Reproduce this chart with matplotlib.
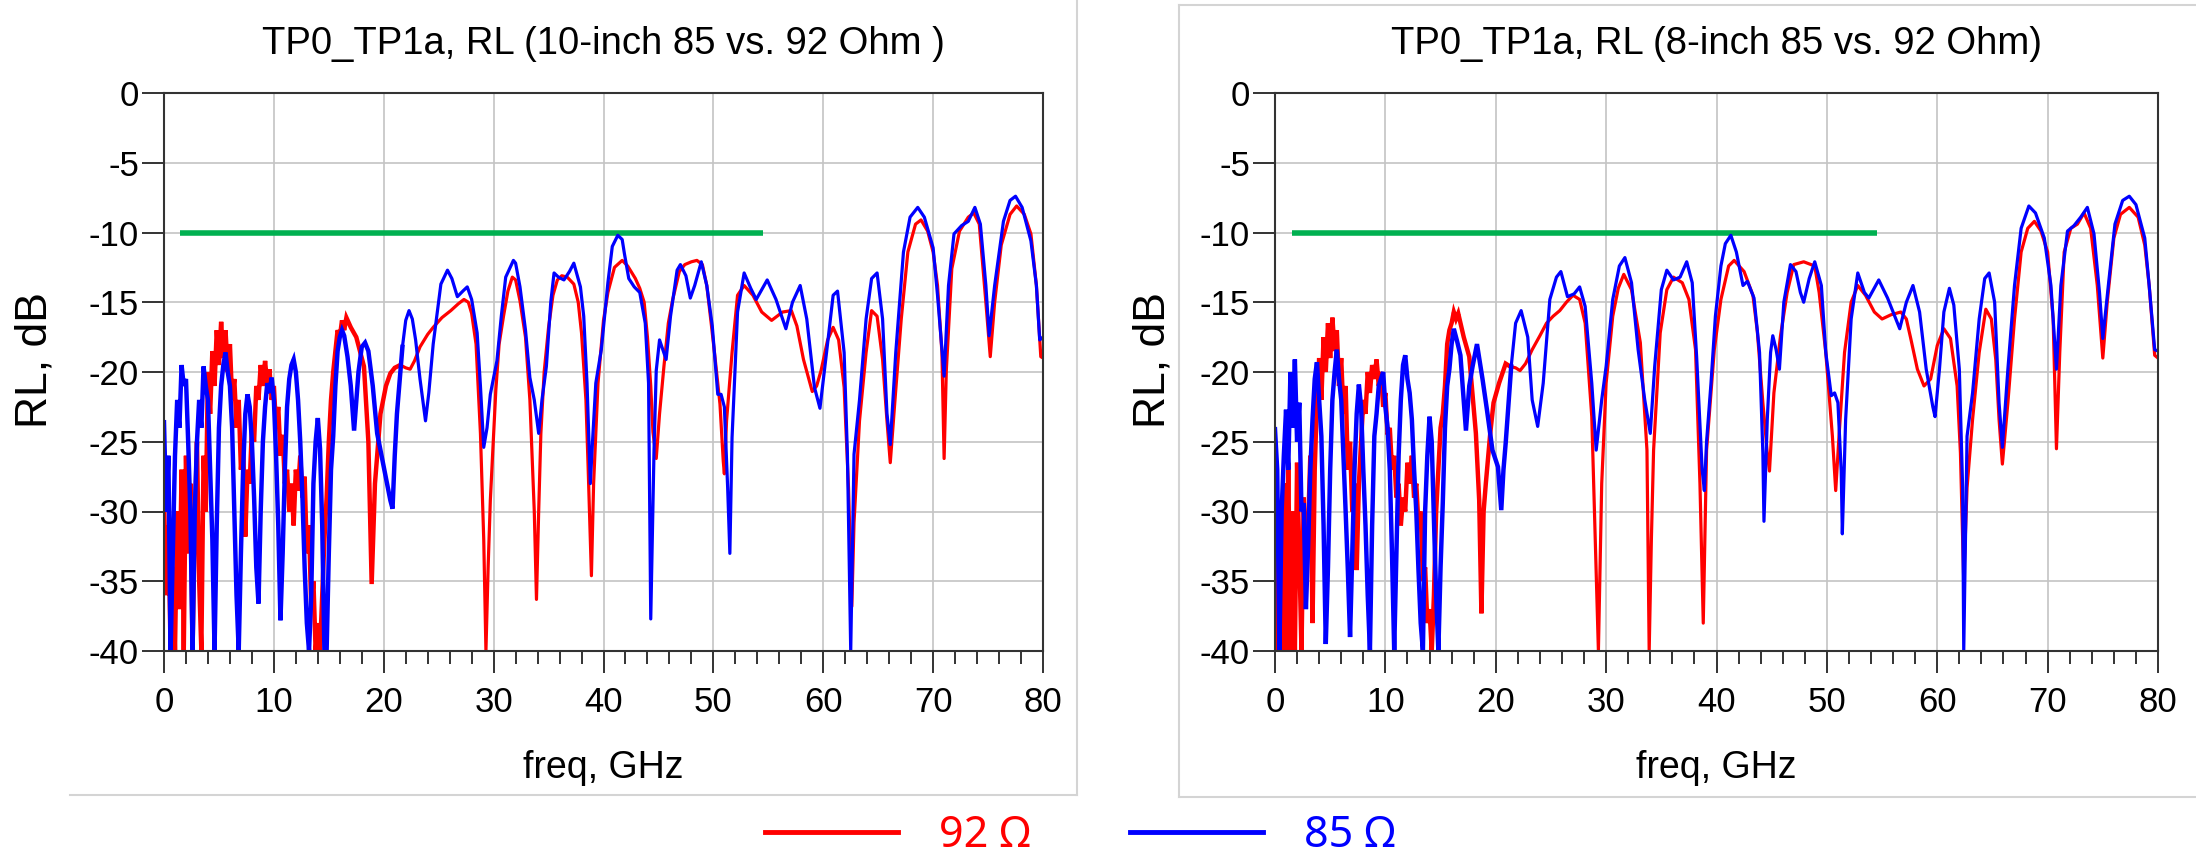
import numpy as np
import matplotlib
matplotlib.use("Agg")
import matplotlib.pyplot as plt
from matplotlib.lines import Line2D
from matplotlib.ticker import MultipleLocator

W, H = 2196, 857
plt.rcParams.update({"font.family": ["Liberation Sans", "DejaVu Sans"],
                     "axes.unicode_minus": False})

# ---- data: (freq GHz, RL dB) pairs ----
titles = ["TP0_TP1a, RL (10-inch 85 vs. 92 Ohm )", "TP0_TP1a, RL (8-inch 85 vs. 92 Ohm)"]
legend_labels = ["92 Ω", "85 Ω"]
limit_f = [1.5, 54.5]
limit_db = [-10, -10]
noisy_below = 21.2   # GHz, the measured traces are very ripply under this

rl92_10in = [
    0.0, -29, 0.2, -36, 0.4, -31, 0.6, -40, 0.8, -34, 1.0, -40, 1.2, -30, 1.4, -37, 1.6, -27, 1.8, -40,
    2.0, -26, 2.2, -33, 2.4, -28, 2.6, -40, 2.8, -31, 3.0, -25, 3.2, -35, 3.4, -40, 3.6, -26, 3.8, -30,
    4.0, -20, 4.2, -23, 4.4, -18.5, 4.6, -21, 4.8, -17, 5.0, -19.5, 5.2, -16.4, 5.4, -19, 5.6, -17, 5.8, -20,
    6.0, -18, 6.2, -22, 6.4, -20.5, 6.6, -24, 6.8, -22, 7.0, -27, 7.2, -25, 7.4, -31.8, 7.6, -27, 7.8, -28,
    8.0, -24, 8.2, -25, 8.4, -21, 8.6, -22, 8.8, -19.5, 9.0, -21, 9.2, -19.2, 9.4, -21, 9.6, -19.8, 9.8, -22,
    10.0, -21, 10.2, -24, 10.4, -22.5, 10.6, -26, 10.8, -24.5, 11.0, -28, 11.2, -27, 11.4, -30, 11.6, -28, 11.8, -31,
    12.0, -27, 12.2, -28.5, 12.4, -26, 12.6, -29, 12.8, -27.5, 13.0, -33, 13.2, -31, 13.4, -37, 13.6, -35, 13.8, -40,
    14.0, -38, 14.2, -40, 14.4, -36, 14.6, -32, 14.8, -29, 15.0, -25, 15.2, -22, 15.4, -20, 15.6, -18.5, 15.8, -17,
    16.0, -17.5, 16.2, -16.3, 16.4, -17, 16.6, -16.1, 17.0, -16.8, 17.5, -17.5, 18.2, -19.6, 18.6, -25, 18.9, -35.2,
    19.2, -28, 19.7, -23, 20.2, -21, 20.6, -20.1, 21.0, -19.7, 21.5, -19.5, 22.0, -19.7, 22.4, -19.8, 22.8, -19.2,
    23.3, -18.2, 24.0, -17.3, 24.5, -16.8, 25.3, -16.1, 26.1, -15.6, 26.8, -15.1, 27.3, -14.8, 27.7, -15.0,
    28.0, -15.8, 28.4, -18, 28.8, -24.4, 29.1, -32, 29.3, -40, 29.5, -34, 29.7, -29.2, 30.2, -21.3, 30.5, -18,
    30.9, -16, 31.3, -14.2, 31.7, -13.2, 32.0, -13.4, 32.4, -14.9, 32.9, -17.5, 33.3, -22, 33.7, -30, 33.9, -36.3,
    34.1, -30, 34.3, -24.4, 34.6, -20, 35.0, -16.8, 35.4, -14.5, 35.8, -13.4, 36.2, -13.1, 36.7, -13.2, 37.3, -13.7,
    37.7, -15, 38.0, -17.2, 38.4, -22, 38.6, -26.8, 38.9, -34.6, 39.1, -28, 39.5, -20.8, 40.0, -16.3, 40.4, -14.3,
    41.0, -12.5, 41.7, -12.0, 42.2, -12.4, 42.9, -13.3, 43.3, -14, 43.7, -15, 44.0, -17.5, 44.3, -21, 44.5, -24.3,
    44.8, -26.2, 45.1, -23, 45.5, -19.6, 45.9, -16.5, 46.3, -14.8, 46.9, -12.8, 47.4, -12.3, 48.0, -12.1, 48.5, -12.0,
    49.0, -12.3, 49.4, -13.8, 49.8, -16.5, 50.1, -18.6, 50.6, -22.3, 50.9, -26.4, 51.0, -27.3, 51.2, -23.5,
    51.7, -18.6, 52.2, -14.5, 52.8, -13.8, 53.6, -14.5, 54.4, -15.7, 55.3, -16.3, 55.8, -16.0, 56.3, -15.7,
    57.1, -15.6, 57.6, -16.7, 58.2, -19.1, 59.0, -21.4, 59.4, -21, 59.8, -19.9, 60.4, -17.7, 60.9, -16.8, 61.4, -17.7,
    61.9, -21.1, 62.3, -28.3, 62.6, -36.8, 62.8, -30.8, 63.3, -23.5, 63.9, -18.6, 64.4, -15.6, 64.9, -16, 65.4, -19.1,
    65.8, -23.5, 66.1, -26.5, 66.5, -22.3, 67.1, -16.2, 67.7, -11.4, 68.4, -9.4, 68.9, -9.1, 69.5, -9.9, 70.0, -11.4,
    70.4, -13.8, 70.8, -18.6, 71.0, -26.2, 71.2, -19.9, 71.7, -12.6, 72.4, -9.9, 73.2, -8.9, 73.7, -8.6, 74.2, -9.4,
    74.8, -15, 75.2, -18.9, 75.6, -15, 76.2, -10.9, 77.0, -8.7, 77.6, -8.1, 78.3, -8.7, 78.9, -10.1, 79.4, -13.8,
    79.8, -18.9, 80.0, -19.0,
]

rl85_10in = [
    0.0, -23.6, 0.2, -30, 0.4, -26, 0.6, -40, 0.8, -33, 1.0, -26, 1.2, -22, 1.4, -24, 1.6, -19.5, 1.8, -21,
    2.0, -20.5, 2.2, -25, 2.4, -30, 2.6, -40, 2.8, -30, 3.0, -25, 3.2, -22, 3.4, -24, 3.6, -19.6, 3.8, -21,
    4.0, -22, 4.2, -27, 4.4, -32, 4.6, -40, 4.8, -31, 5.0, -24, 5.2, -21, 5.4, -19.5, 5.6, -18.6, 5.8, -20,
    6.0, -21, 6.2, -24, 6.4, -30, 6.6, -36, 6.8, -40, 7.0, -33, 7.2, -27, 7.4, -23, 7.6, -21.6, 7.8, -22.5,
    8.0, -25, 8.2, -29, 8.4, -34, 8.6, -36.6, 8.8, -30, 9.0, -25, 9.2, -22.5, 9.4, -20.8, 9.6, -21.5, 9.8, -20.4,
    10.0, -22, 10.2, -26, 10.4, -31, 10.6, -37.8, 10.8, -33, 11.0, -27, 11.2, -22.5, 11.4, -20.5, 11.6, -19.5,
    11.8, -19.1, 12.0, -20, 12.2, -22, 12.4, -25, 12.6, -29, 12.8, -34, 13.0, -38, 13.2, -40, 13.4, -36, 13.6, -28,
    13.8, -25, 14.0, -23.3, 14.2, -25.5, 14.4, -31, 14.6, -40, 14.8, -40, 15.0, -33, 15.2, -27, 15.4, -24.6,
    15.6, -21, 15.8, -18.5, 16.0, -17.5, 16.2, -17.0, 16.4, -17.4, 16.7, -18.9, 17.0, -21, 17.3, -24.2, 17.7, -20,
    18.0, -18.2, 18.3, -17.9, 18.6, -18.5, 19.0, -21, 19.4, -24.4, 19.8, -26, 20.0, -26.8, 20.3, -28, 20.6, -29.2,
    20.8, -29.8, 21.0, -26, 21.2, -23, 21.7, -18.2, 22.0, -16.3, 22.3, -15.6, 22.6, -16.2, 22.9, -17.7, 23.3, -20.5,
    23.8, -23.5, 24.1, -21.5, 24.5, -18, 25.2, -13.7, 25.8, -12.7, 26.2, -13.3, 26.7, -14.6, 27.2, -14.2, 27.6, -13.9,
    28.0, -14.8, 28.5, -17.2, 28.8, -21, 29.1, -25.4, 29.4, -24, 29.7, -21.6, 30.3, -19.2, 30.7, -16, 31.1, -13.2,
    31.8, -12.0, 32.0, -12.2, 32.4, -13.9, 32.9, -17, 33.3, -20.4, 33.7, -22, 34.1, -24.4, 34.4, -22, 34.8, -19.6,
    35.2, -15, 35.5, -12.9, 35.9, -13.2, 36.4, -13.4, 36.9, -12.8, 37.3, -12.2, 37.9, -13.9, 38.2, -16, 38.5, -20.8,
    38.8, -28, 39.0, -25, 39.3, -20.8, 39.8, -18.4, 40.4, -13.6, 40.8, -11.0, 41.3, -10.2, 41.7, -10.5, 41.9, -11.5,
    42.3, -13.3, 42.8, -13.9, 43.3, -14.3, 43.8, -16.5, 44.1, -20.8, 44.3, -37.7, 44.6, -25.5, 44.8, -19.9,
    45.1, -17.7, 45.4, -18.4, 45.7, -19.1, 46.1, -16, 46.7, -12.7, 47.0, -12.3, 47.5, -13.1, 47.9, -14.7, 48.3, -13.8,
    48.9, -12.1, 49.4, -13.8, 49.9, -16.7, 50.4, -21.6, 50.7, -21.6, 51.0, -22.5, 51.3, -28.3, 51.5, -33, 51.7, -24.7,
    52.2, -15.7, 52.8, -12.9, 53.4, -14, 53.9, -14.8, 54.9, -13.4, 55.7, -14.8, 56.6, -16.9, 57.2, -15, 57.9, -13.8,
    58.5, -16.2, 59.2, -21.1, 59.7, -22.6, 60.3, -18.6, 60.9, -14.5, 61.3, -14.2, 61.9, -18.6, 62.2, -25.9, 62.5, -40,
    62.8, -25.9, 63.3, -22, 63.9, -16.2, 64.4, -13.3, 64.9, -12.9, 65.4, -16.2, 65.8, -23, 66.1, -25.2, 66.6, -18.6,
    67.3, -11.4, 67.9, -8.9, 68.6, -8.2, 69.2, -8.9, 70.0, -11.1, 70.4, -14.5, 71.0, -20.3, 71.4, -13.8, 71.9, -10.1,
    72.6, -9.5, 73.2, -9.2, 73.8, -8.2, 74.3, -9.4, 74.8, -13.8, 75.1, -17.4, 75.6, -13.8, 76.4, -9.2, 77.0, -7.7,
    77.5, -7.4, 78.1, -8.2, 78.9, -10.6, 79.4, -13.8, 79.7, -17.7, 80.0, -17.5,
]

rl92_8in = [
    0.0, -29, 0.2, -40, 0.4, -31, 0.6, -40, 0.8, -28, 1.0, -40, 1.2, -26.5, 1.4, -40, 1.6, -30, 1.8, -40,
    2.0, -26.5, 2.2, -33, 2.4, -40, 2.6, -29, 2.8, -35, 3.0, -31, 3.2, -26, 3.4, -38, 3.6, -27, 3.8, -22,
    4.0, -19, 4.2, -22, 4.4, -17.5, 4.6, -20, 4.8, -16.5, 5.0, -19, 5.2, -16.1, 5.4, -18.5, 5.6, -17, 5.8, -21,
    6.0, -19, 6.2, -23, 6.4, -21, 6.6, -27, 6.8, -25, 7.0, -30, 7.2, -28, 7.4, -34.2, 7.6, -28, 7.8, -25,
    8.0, -22, 8.2, -23, 8.4, -20, 8.6, -21.5, 8.8, -19.5, 9.0, -20.5, 9.2, -19.1, 9.4, -21, 9.6, -20, 9.8, -22.5,
    10.0, -21.5, 10.2, -24.5, 10.4, -24, 10.6, -27, 10.8, -26, 11.0, -29, 11.2, -28, 11.4, -31, 11.6, -29, 11.8, -30,
    12.0, -26.5, 12.2, -28, 12.4, -26, 12.6, -29, 12.8, -28, 13.0, -31, 13.2, -30, 13.4, -35, 13.6, -34, 13.8, -38,
    14.0, -37, 14.2, -40, 14.4, -36, 14.6, -30, 14.8, -27, 15.0, -24, 15.2, -23, 15.4, -21, 15.6, -18, 15.8, -17,
    16.0, -16.5, 16.2, -15.7, 16.4, -16.2, 16.6, -15.8, 17.1, -17.5, 17.6, -18.9, 18.2, -24.4, 18.5, -29.2,
    18.7, -37.3, 18.9, -30, 19.1, -28, 19.5, -24.4, 19.8, -22.2, 20.3, -20.8, 20.9, -19.4, 21.3, -19.6, 21.8, -19.7,
    22.2, -19.9, 22.7, -19.4, 23.3, -18.4, 24.0, -17.4, 24.6, -16.5, 25.2, -16.0, 25.8, -15.6, 26.4, -15.0,
    27.0, -14.5, 27.6, -14.8, 28.1, -16.5, 28.7, -23.2, 29.0, -31.6, 29.3, -40, 29.6, -28, 30.0, -20.8, 30.6, -16,
    31.1, -14, 31.6, -13, 32.3, -14.1, 33.1, -17.9, 33.7, -25.6, 33.9, -40, 34.1, -32, 34.3, -25.6, 34.9, -17.2,
    35.5, -14.1, 36.1, -13.2, 36.9, -13.6, 37.5, -14.8, 38.1, -18.4, 38.5, -28, 38.8, -38, 39.1, -25.6, 39.8, -18.4,
    40.4, -14.8, 41.1, -12.4, 41.6, -12.0, 42.5, -12.8, 43.3, -14.5, 43.7, -17.1, 44.2, -22.2, 44.6, -25.8,
    44.8, -27.1, 45.2, -21.5, 45.8, -17.4, 46.4, -14.3, 47.0, -12.3, 47.9, -12.1, 48.9, -12.4, 49.3, -14.3,
    49.9, -18.6, 50.5, -24.6, 50.8, -28.5, 51.1, -24.6, 51.6, -18.6, 52.2, -15, 52.8, -13.8, 53.5, -14.5, 54.3, -15.7,
    55.0, -16.2, 55.8, -15.9, 56.7, -15.7, 57.2, -16.2, 57.6, -17.6, 58.2, -19.8, 58.8, -21, 59.4, -20.5, 60.0, -18.1,
    60.6, -16.9, 61.2, -17.6, 61.8, -21, 62.1, -25.8, 62.4, -35, 62.7, -28.3, 63.2, -23.4, 63.8, -18.6, 64.4, -15.5,
    64.9, -16.2, 65.3, -19.1, 65.6, -23.4, 65.9, -26.6, 66.4, -22.2, 67.0, -16.2, 67.6, -11.4, 68.2, -9.7, 68.8, -9.2,
    69.4, -9.9, 70.0, -11.4, 70.5, -16.2, 70.8, -25.5, 71.1, -18.6, 71.5, -11.4, 72.1, -9.7, 72.7, -9.4, 73.3, -8.6,
    73.9, -9.7, 74.5, -13.8, 75.0, -19, 75.4, -15, 76.0, -10.4, 76.6, -8.7, 77.4, -8.2, 78.2, -8.9, 78.8, -10.9,
    79.2, -13.8, 79.7, -18.8, 80.0, -19.0,
]

rl85_8in = [
    0.0, -24.1, 0.2, -27, 0.4, -40, 0.6, -30, 0.8, -26, 1.0, -22.7, 1.2, -27, 1.4, -20, 1.6, -24, 1.8, -19.1,
    2.0, -25, 2.2, -22.2, 2.4, -30, 2.6, -29.4, 2.8, -37, 3.0, -32.5, 3.2, -27, 3.4, -23.4, 3.6, -20.5, 3.8, -19.3,
    4.0, -22, 4.2, -24.6, 4.4, -31, 4.6, -39.5, 4.8, -34, 5.0, -27, 5.2, -22, 5.4, -20, 5.6, -18.4, 5.8, -20.5,
    6.0, -22, 6.2, -26, 6.4, -30, 6.6, -34.2, 6.8, -39, 7.0, -33, 7.2, -27, 7.4, -23, 7.6, -20.9, 7.8, -22.5,
    8.0, -27, 8.2, -31, 8.4, -36, 8.6, -40, 8.8, -31, 9.0, -24.6, 9.2, -23, 9.4, -21, 9.6, -20.5, 9.8, -20,
    10.0, -22.5, 10.2, -24, 10.4, -27, 10.6, -33, 10.8, -40, 11.0, -33, 11.2, -26, 11.4, -22, 11.6, -19.5, 11.8, -18.8,
    12.0, -20.5, 12.2, -21.5, 12.4, -23.4, 12.6, -27, 12.8, -30, 13.0, -34.2, 13.2, -38, 13.4, -40, 13.6, -30,
    13.8, -26, 14.0, -23.2, 14.2, -25, 14.4, -30.6, 14.6, -36, 14.8, -40, 15.0, -34, 15.2, -29.4, 15.4, -24,
    15.6, -21, 15.8, -19.8, 16.0, -18, 16.2, -16.9, 16.5, -17.8, 16.8, -18.8, 17.0, -21, 17.3, -24.2, 17.6, -21,
    17.9, -19.6, 18.3, -18, 18.8, -20.5, 19.2, -22.7, 19.7, -25.6, 20.2, -26.8, 20.5, -29.9, 20.7, -27, 20.9, -25.1,
    21.4, -19.6, 21.8, -16.5, 22.3, -15.6, 22.9, -17.5, 23.3, -22, 23.8, -23.9, 24.3, -20.8, 24.9, -14.8, 25.5, -13.2,
    25.9, -12.8, 26.5, -14.6, 27.1, -14.4, 27.6, -13.9, 28.1, -15.3, 28.7, -20.8, 29.1, -25.6, 29.6, -22, 30.0, -19.6,
    30.6, -14.8, 31.2, -12.4, 31.7, -11.8, 32.3, -13.6, 32.9, -18.4, 33.5, -22, 34.0, -24.4, 34.4, -19.6, 35.0, -14.1,
    35.5, -12.7, 36.1, -13.4, 36.7, -13.2, 37.3, -12.1, 37.8, -13.6, 38.2, -18.9, 38.7, -27, 38.9, -28.5, 39.1, -25,
    39.5, -20.8, 39.9, -16, 40.4, -12.4, 40.8, -10.8, 41.3, -10.2, 41.8, -11.4, 42.4, -13.8, 42.8, -13.5, 43.4, -14.7,
    43.9, -18.6, 44.2, -25.8, 44.3, -30.7, 44.6, -23.4, 44.9, -18.6, 45.1, -17.4, 45.4, -18.4, 45.7, -19.8, 46.1, -15,
    46.7, -12.3, 47.2, -12.8, 47.6, -14.3, 47.9, -15, 48.4, -13.3, 48.9, -12.1, 49.5, -13.8, 49.9, -18.6, 50.4, -21.7,
    50.7, -21.5, 51.0, -22.2, 51.3, -27.1, 51.4, -31.6, 51.7, -23.4, 52.2, -16.2, 52.8, -12.9, 53.4, -14.3,
    53.8, -14.7, 54.7, -13.4, 55.5, -14.7, 56.6, -16.9, 57.2, -15, 57.8, -13.8, 58.4, -15.7, 59.0, -19.8, 59.6, -22.5,
    59.8, -23.2, 60.2, -19.8, 60.6, -15.7, 61.1, -14, 61.5, -15.2, 62.0, -19.8, 62.3, -28.3, 62.4, -40, 62.7, -24.6,
    63.2, -21.5, 63.8, -16.2, 64.3, -13.3, 64.7, -12.9, 65.2, -15, 65.6, -22.2, 65.9, -25.4, 66.4, -19.8, 67.0, -13.8,
    67.6, -9.7, 68.3, -8.1, 68.9, -8.6, 69.7, -10.4, 70.3, -13.8, 70.8, -19.8, 71.2, -13.8, 71.8, -9.9, 72.4, -9.5,
    73.0, -8.9, 73.6, -8.2, 74.2, -10.1, 74.7, -14.3, 75.0, -17.6, 75.5, -13.8, 76.1, -9.4, 76.8, -7.7, 77.4, -7.4,
    78.0, -8, 78.8, -10.4, 79.2, -13.8, 79.7, -18.4, 80.0, -18.5,
]

RED, BLUE, GREEN = "#ff0000", "#0000ff", "#00b050"


def xy(flat):
    a = np.asarray(flat, dtype=float).reshape(-1, 2)
    return a[:, 0], a[:, 1]


def trace(ax, flat, color):
    # ripply low-frequency part drawn heavier, like the dense measured band
    f, v = xy(flat)
    lo = f <= noisy_below
    k = lo.sum()
    ax.plot(f[:k + 1], v[:k + 1], color=color, lw=3.2, solid_joinstyle="miter")
    ax.plot(f[k:], v[k:], color=color, lw=2.3)


fig = plt.figure(figsize=(W / 100, H / 100), dpi=100)

# light panel frames
frame = dict(color="#d4d4d4", lw=1.5, transform=fig.transFigure)
fig.add_artist(Line2D([70 / W, 1077 / W], [1 - 795 / H] * 2, **frame))
fig.add_artist(Line2D([1077 / W] * 2, [1 - 795 / H, 1.0], **frame))
fig.add_artist(Line2D([1179 / W, 1.0], [1 - 797 / H] * 2, **frame))
fig.add_artist(Line2D([1179 / W] * 2, [1 - 797 / H, 1 - 5 / H], **frame))
fig.add_artist(Line2D([1179 / W, 1.0], [1 - 5 / H] * 2, **frame))

axes = [fig.add_axes([164 / W, 1 - 651 / H, 879 / W, 558 / H]),
        fig.add_axes([1275 / W, 1 - 651 / H, 883 / W, 558 / H])]
series = [(rl92_10in, rl85_10in), (rl92_8in, rl85_8in)]

for ax, title, (red, blue) in zip(axes, titles, series):
    ax.plot(limit_f, limit_db, color=GREEN, lw=4.0, solid_capstyle="butt")
    trace(ax, red, RED)
    trace(ax, blue, BLUE)

    ax.set_xlim(0, 80)
    ax.set_ylim(-40, 0)
    ax.xaxis.set_major_locator(MultipleLocator(10))
    ax.xaxis.set_minor_locator(MultipleLocator(2))
    ax.yaxis.set_major_locator(MultipleLocator(5))
    ax.grid(True, which="major", color="#c4c4c4", lw=1.2)
    ax.set_axisbelow(True)
    for s in ax.spines.values():
        s.set_color("#333333")
        s.set_linewidth(1.5)
    ax.tick_params(axis="both", which="major", direction="out", length=16, width=1.4,
                   color="#333333", labelsize=25)
    ax.tick_params(axis="x", which="major", pad=9)
    ax.tick_params(axis="y", which="major", pad=2)
    ax.tick_params(axis="x", which="minor", direction="out", length=9, width=1.4, color="#333333")

    bb = ax.get_position()
    cx = (bb.x0 + bb.x1) / 2
    fig.text(cx, 1 - 44 / H, title, ha="center", va="center", fontsize=27.5)
    fig.text(cx, 1 - 768 / H, "freq, GHz", ha="center", va="center", fontsize=27)

fig.text(35 / W, 1 - 360 / H, "RL, dB", rotation=90, ha="center", va="center", fontsize=32)
fig.text(1153 / W, 1 - 360 / H, "RL, dB", rotation=90, ha="center", va="center", fontsize=32)

handles = [Line2D([], [], color=RED, lw=3.5), Line2D([], [], color=BLUE, lw=3.5)]
leg = fig.legend(handles, legend_labels, loc="center", bbox_to_anchor=(1080 / W, 1 - 836 / H),
                 ncol=2, frameon=False, handlelength=3.1, handletextpad=0.95, columnspacing=2.3,
                 prop={"family": ["Noto Sans", "DejaVu Sans"], "size": 31}, borderaxespad=0, borderpad=0)
for txt, c in zip(leg.get_texts(), [RED, BLUE]):
    txt.set_color(c)

fig.savefig("out.png", dpi=100)
